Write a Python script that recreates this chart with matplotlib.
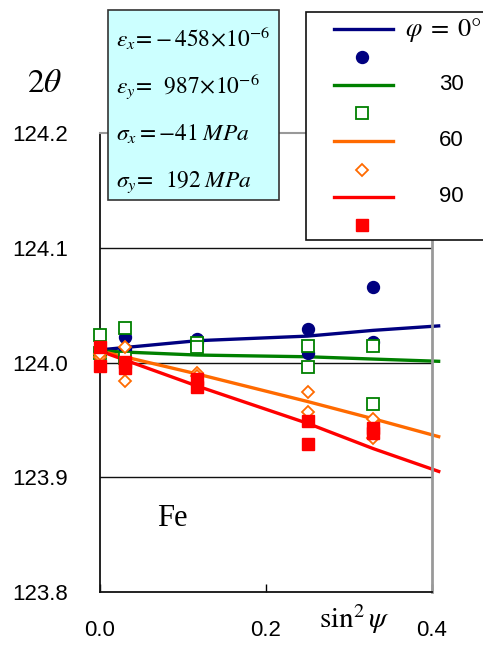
import matplotlib
matplotlib.use("Agg")
import matplotlib.pyplot as plt
from matplotlib.patches import Rectangle

plt.rcParams['mathtext.fontset'] = 'stix'
plt.rcParams['font.family'] = ['Liberation Sans', 'DejaVu Sans']

# ---------------- data ----------------
sin2psi = [0.0, 0.030, 0.117, 0.250, 0.329]
phi_labels = ['0', '30', '60', '90']
colors = ['#000080', '#008000', '#FF6A00', '#FF0000']

# measured 2theta points (two per psi)
pts_phi0 = [[124.010, 124.010], [124.022, 124.012], [124.0205, 124.018],
            [124.0295, 124.008], [124.066, 124.018]]
pts_phi30 = [[124.024, 124.008], [124.030, 124.004], [124.0168, 124.0133],
             [124.0144, 123.996], [124.0144, 123.9638]]
pts_phi60 = [[124.005, 124.0074], [124.0135, 123.984], [123.9908, 123.988],
             [123.9743, 123.957], [123.9505, 123.9345]]
pts_phi90 = [[124.0138, 123.9972], [124.0004, 123.995], [123.9854, 123.9784],
             [123.9488, 123.9292], [123.943, 123.9386]]

# fitted curves
fit_x = [0.0, 0.117, 0.250, 0.329, 0.41]
fit_phi0 = [124.011, 124.019, 124.023, 124.028, 124.032]
fit_phi30 = [124.010, 124.0065, 124.005, 124.003, 124.001]
fit_phi60 = [124.010, 123.990, 123.966, 123.951, 123.935]
fit_phi90 = [124.010, 123.9795, 123.947, 123.925, 123.9046]

yticks = [123.8, 123.9, 124.0, 124.1, 124.2]
xticks = [0.0, 0.2, 0.4]

W, H = 483, 646
fig = plt.figure(figsize=(W / 100, H / 100), dpi=100)
ax = fig.add_axes([100 / W, 1 - 592 / H, 332 / W, (592 - 133) / H])
ax.set_xlim(0, 0.4)
ax.set_ylim(123.8, 124.2)

for yv in [123.9, 124.0, 124.1]:
    ax.axhline(yv, color='#111111', lw=1.0, zorder=1)

fits = [fit_phi0, fit_phi30, fit_phi60, fit_phi90]
for fy, c in zip(fits, colors):
    ax.plot(fit_x, fy, color=c, lw=2.4, zorder=2, clip_on=False, solid_capstyle='butt')

pts = [pts_phi0, pts_phi30, pts_phi60, pts_phi90]
mstyles = [dict(marker='o', ms=8.6, mfc=colors[0], mec=colors[0]),
           dict(marker='s', ms=8.0, mfc='white', mec=colors[1], mew=1.3),
           dict(marker='D', ms=6.6, mfc='white', mec=colors[2], mew=1.3),
           dict(marker='s', ms=8.6, mfc=colors[3], mec=colors[3])]
for p, st in zip(pts, mstyles):
    xs, ys = [], []
    for xv, pair in zip(sin2psi, p):
        for yv in pair:
            xs.append(xv)
            ys.append(yv)
    ax.plot(xs, ys, ls='none', zorder=3, clip_on=False, **st)

ax.set_yticks(yticks)
ax.set_yticklabels([f'{v:.1f}' for v in yticks])
ax.set_xticks(xticks)
ax.set_xticklabels([f'{v:.1f}' for v in xticks])
ax.tick_params(axis='y', length=0, pad=23, labelsize=16)
ax.tick_params(axis='x', direction='in', length=6, width=1, pad=20, labelsize=16)

ax.spines['left'].set_color('#111111')
ax.spines['left'].set_linewidth(1.3)
ax.spines['bottom'].set_color('#111111')
ax.spines['bottom'].set_linewidth(1.3)
ax.spines['right'].set_color('#999999')
ax.spines['right'].set_linewidth(2.0)
ax.spines['top'].set_color('#999999')
ax.spines['top'].set_linewidth(1.5)

# overlay in pixel coords
ov = fig.add_axes([0, 0, 1, 1], zorder=5)
ov.set_xlim(0, W)
ov.set_ylim(H, 0)
ov.axis('off')
ov.patch.set_alpha(0)

# info box
ov.add_patch(Rectangle((108, 10), 171, 190, facecolor='#CCFFFF', edgecolor='#333333', lw=1.2))
box_lines = [r'$\varepsilon_x\!=\!-458\!\times\!10^{-6}$',
             r'$\varepsilon_y\!=\;\;987\!\times\!10^{-6}$',
             r'$\sigma_x = -41\;MPa$',
             r'$\sigma_y\!=\;\;192\;MPa$']
for i, t in enumerate(box_lines):
    ov.text(116, 47 + 46.7 * i, t, fontsize=16.8, ha='left', va='baseline')

# legend
ov.add_patch(Rectangle((306, 12), 190, 228, facecolor='white', edgecolor='#111111', lw=1.2, clip_on=False))
line_y = [29, 85, 141, 197]
mark_y = [57, 113, 170, 225]
for c, ly, my, st in zip(colors, line_y, mark_y, mstyles):
    ov.plot([334, 393], [ly, ly], color=c, lw=2.4)
    ov.plot([362], [my], ls='none', **st)
ov.text(405, 30, r'$\varphi\;=\;0$°', fontsize=19, ha='left', va='center',
        family=['STIXGeneral', 'DejaVu Serif'])
for lab, ly in zip(phi_labels[1:], line_y[1:]):
    ov.text(439, ly, lab, fontsize=16, ha='left', va='center')

# axis labels and annotation
ov.text(45, 83, r'$2\theta$', fontsize=24, ha='center', va='center')
ov.text(354, 619, r'$\sin^2\psi$', fontsize=21, ha='center', va='center')
ov.text(172, 518, 'Fe', fontsize=22, ha='center', va='center',
        family=['Liberation Serif', 'DejaVu Serif'])

fig.savefig('out.png', dpi=100)
